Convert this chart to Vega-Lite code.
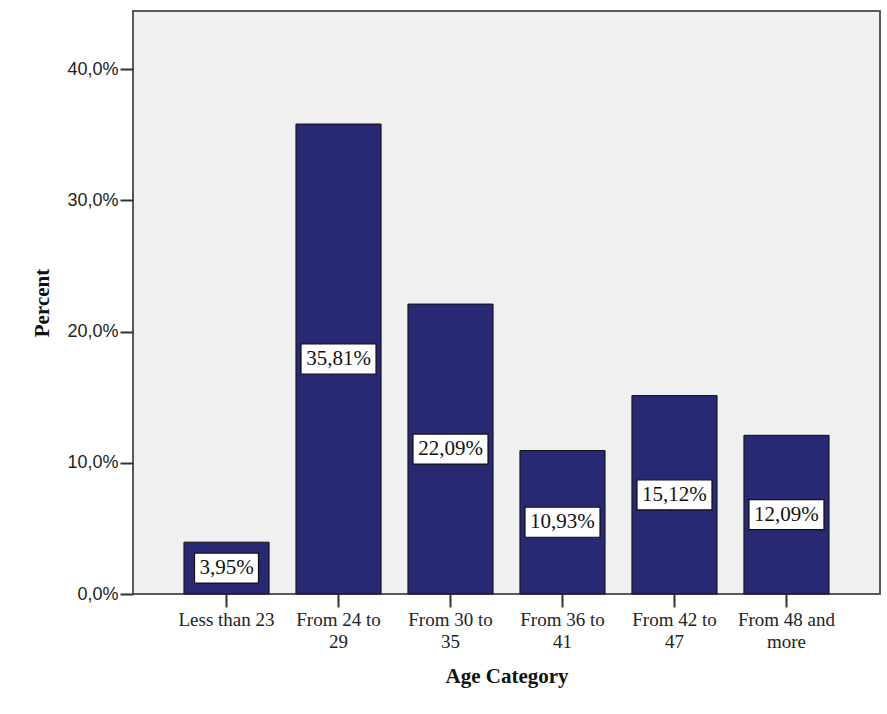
{
  "$schema": "https://vega.github.io/schema/vega-lite/v6.json",
  "width": 747,
  "height": 583,
  "autosize": {"type": "none"},
  "padding": {"left": 133, "top": 11, "right": 7, "bottom": 120},
  "background": "white",
  "config": {
    "locale": {"number": {"decimal": ",", "thousands": ".", "grouping": [3], "currency": ["", "€"]}},
    "view": {"fill": "#F0F0F0", "stroke": "#5a5a5a", "strokeWidth": 2},
    "font": "Liberation Serif"
  },
  "data": {
    "values": [
      {"category": "Less than 23", "pct": 0.0395},
      {"category": "From 24 to 29", "pct": 0.3581},
      {"category": "From 30 to 35", "pct": 0.2209},
      {"category": "From 36 to 41", "pct": 0.1093},
      {"category": "From 42 to 47", "pct": 0.1512},
      {"category": "From 48 and more", "pct": 0.1209}
    ]
  },
  "transform": [{"calculate": "datum.pct / 2", "as": "mid"}],
  "encoding": {
    "x": {
      "field": "category",
      "type": "nominal",
      "sort": null,
      "scale": {"paddingInner": 0.24, "paddingOuter": 0.455},
      "axis": {
        "title": "Age Category",
        "titleFont": "Liberation Serif",
        "titleFontSize": 21,
        "titleFontWeight": "bold",
        "titleColor": "#111",
        "titlePadding": 14,
        "labelAngle": 0,
        "labelFont": "Liberation Serif",
        "labelFontSize": 19,
        "labelColor": "#222",
        "labelPadding": 3,
        "labelLineHeight": 22,
        "labelBaseline": "top",
        "labelExpr": "datum.label == 'From 48 and more' ? ['From 48 and', 'more'] : length(datum.label) > 12 ? [substring(datum.label, 0, 10), substring(datum.label, 11)] : datum.label",
        "tickSize": 13,
        "tickColor": "#333",
        "tickWidth": 2,
        "domain": false
      }
    }
  },
  "layer": [
    {
      "mark": {"type": "bar", "fill": "#282873", "stroke": "#111", "strokeWidth": 1},
      "encoding": {
        "y": {
          "field": "pct",
          "type": "quantitative",
          "scale": {"domain": [0, 0.4442], "nice": false},
          "axis": {
            "title": "Percent",
            "titleFont": "Liberation Serif",
            "titleFontSize": 21,
            "titleFontWeight": "bold",
            "titleColor": "#111",
            "titlePadding": 14,
            "values": [0, 0.1, 0.2, 0.3, 0.4],
            "format": ".1%",
            "labelFont": "Liberation Sans",
            "labelFontSize": 18,
            "labelColor": "#222",
            "labelPadding": 2,
            "tickSize": 13,
            "tickColor": "#333",
            "tickWidth": 2,
            "grid": false,
            "domain": false
          }
        }
      }
    },
    {
      "mark": {"type": "point", "filled": true, "fill": "white", "stroke": "#111", "strokeWidth": 1.2, "opacity": 1, "size": 5625},
      "encoding": {
        "y": {"field": "mid", "type": "quantitative"},
        "shape": {
          "condition": {"test": "datum.pct < 0.1", "value": "M-0.853,-0.4H0.853V0.4H-0.853Z"},
          "value": "M-1,-0.4H1V0.4H-1Z"
        }
      }
    },
    {
      "mark": {"type": "text", "font": "Liberation Serif", "fontSize": 21, "color": "#111", "baseline": "middle", "align": "center"},
      "encoding": {
        "y": {"field": "mid", "type": "quantitative"},
        "text": {"field": "pct", "type": "quantitative", "format": ".2%"}
      }
    }
  ]
}
